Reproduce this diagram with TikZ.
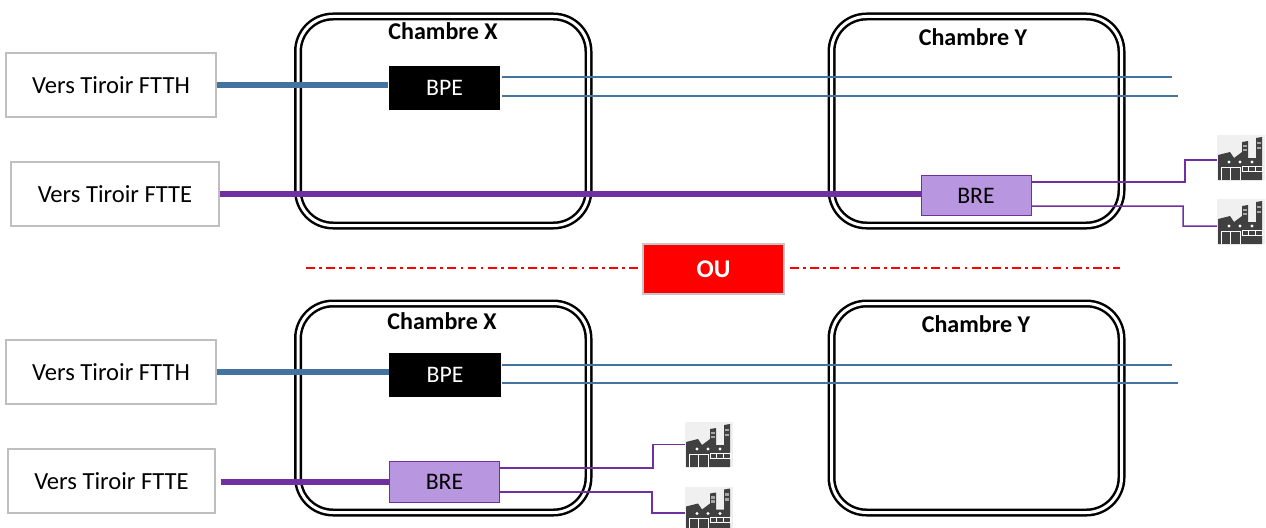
\documentclass[tikz,border=0pt]{standalone}
\usepackage{fontspec}
\setmainfont{Carlito}
\usetikzlibrary{calc}
\definecolor{ftthblue}{HTML}{44739F}
\definecolor{ftteviolet}{HTML}{7030A0}
\definecolor{brefill}{HTML}{B996E0}
\definecolor{usinegray}{HTML}{404040}
\tikzstyle{chambre}=[draw=black, double, line width=.05cm, double distance=.06cm, rounded corners=.7cm]
\tikzstyle{tiroir}=[draw=gray!50, line width=.03cm, fill=white, font=\fontsize{14}{16}\selectfont, inner sep=0pt]
\tikzstyle{titre}=[font=\fontsize{13.7}{16}\selectfont\bfseries]
\tikzstyle{bpebox}=[fill=black, text=white, font=\fontsize{13.5}{16}\selectfont, inner sep=0pt, minimum width=2.24cm, minimum height=.88cm]
\tikzstyle{brebox}=[draw=ftteviolet, line width=.02cm, fill=brefill, font=\fontsize{13.5}{16}\selectfont, inner sep=0pt, minimum width=2.2cm, minimum height=.82cm]
\tikzstyle{gros}=[line width=.12cm]
\tikzstyle{fin}=[line width=.03cm]
\tikzstyle{sep}=[red, line width=.03cm, dash pattern=on 5pt off 2.5pt on 1.5pt off 2.5pt]
\newcommand{\usineIcon}[2]{
	\node[inner sep=0pt, minimum width=.96cm, minimum height=.9cm, fill=gray!12] (#1) at #2 {};
	\begin{scope}[shift={($#2+(-24,-22.5)$)}]
		\fill[usinegray] (1,45) -- (1,20) -- (13,17) -- (17,23) -- (25,17) -- (25,7) -- (31,6) -- (31,23) -- (39,23) -- (39,3) -- (45,2) -- (45,45) -- cycle;
		\fill[white] (12,27) circle (1.6) (23,27) circle (1.6) (35,27) circle (1.6);
		\draw[white, line width=.02cm] (4,45) -- (4,32) -- (23,32) -- (23,45) (13.5,32) -- (13.5,45);
		\draw[white, line width=.02cm] (25,31) rectangle (45,36) (31,31) -- (31,36) (38,31) -- (38,36);
		\draw[gray!70, line width=.05cm] (26,11) -- (30,11) (26,15) -- (30,15) (40,8) -- (44,8) (40,13) -- (44,13);
	\end{scope}
}
\begin{document}
\begin{tikzpicture}[x=.02cm, y=-.02cm]
	\useasboundingbox (0,0) rectangle (1266,527);
	\draw[chambre] (298,16.5) rectangle (588.5,225.5);
	\draw[chambre] (831.5,16.5) rectangle (1121.5,225.5);
	\draw[chambre] (298,303.5) rectangle (588.5,512.5);
	\draw[chambre] (831.5,303.5) rectangle (1121.5,512.5);
	\node[titre] (chX1) at (443,31) {Chambre X};
	\node[titre] (chY1) at (973,37) {Chambre Y};
	\node[titre] (chX2) at (442,321) {Chambre X};
	\node[titre] (chY2) at (976,324) {Chambre Y};
	\node[tiroir, minimum width=4.2cm, minimum height=1.28cm] (ftth1) at (111,85) {Vers Tiroir FTTH};
	\node[tiroir, minimum width=4.16cm, minimum height=1.28cm] (ftte1) at (115,194) {Vers Tiroir FTTE};
	\node[tiroir, minimum width=4.2cm, minimum height=1.28cm] (ftth2) at (111,372) {Vers Tiroir FTTH};
	\node[tiroir, minimum width=4.14cm, minimum height=1.28cm] (ftte2) at (111.5,481) {Vers Tiroir FTTE};
	\node[bpebox] (bpe1) at (444.5,88) {BPE};
	\node[bpebox] (bpe2) at (445,375) {BPE};
	\node[brebox] (bre1) at (976,195.5) {BRE};
	\node[brebox] (bre2) at (444.5,482) {BRE};
	\node[draw=gray!45, line width=.03cm, fill=red, text=white, font=\fontsize{14.5}{16}\selectfont\bfseries, inner sep=0pt, minimum width=2.82cm, minimum height=1cm] (ou) at (713.5,269) {OU};
	\usineIcon{usineA}{(1241,157.5)}
	\usineIcon{usineB}{(1241,221.5)}
	\usineIcon{usineC}{(709,444.5)}
	\usineIcon{usineD}{(709,509)}
	\draw[gros, ftthblue] (ftth1.east) -- (ftth1.east -| bpe1.west);
	\draw[gros, ftteviolet] (ftte1.east) -- (ftte1.east -| bre1.west);
	\draw[gros, ftthblue] (ftth2.east) -- (ftth2.east -| bpe2.west);
	\draw[gros, ftteviolet] ($(ftte2.east)+(5,1)$) -- ($(ftte2.east -| bre2.west)+(0,1)$);
	\coordinate (finA) at (1172,77);
	\coordinate (finB) at (1178,96);
	\coordinate (finC) at (1172,365);
	\coordinate (finD) at (1178,383);
	\draw[fin, ftthblue] (502,77) -- (finA);
	\draw[fin, ftthblue] (502,96) -- (finB);
	\draw[fin, ftthblue] (502,365) -- (finC);
	\draw[fin, ftthblue] (502,383) -- (finD);
	\draw[fin, ftteviolet] ($(bre1.east)+(0,-13.5)$) -- (1185,182) -- (1185,160) -- (1217,160);
	\draw[fin, ftteviolet] ($(bre1.east)+(0,10.5)$) -- (1183,206) -- (1183,226) -- (1217,226);
	\draw[fin, ftteviolet] ($(bre2.east)+(0,-14)$) -- (653,468) |- (usineC.west);
	\draw[fin, ftteviolet] ($(bre2.east)+(0,10)$) -- (652,492) -- (652,513) -- (685,513);
	\coordinate (sepA) at (306,268);
	\coordinate (sepB) at (1120,268);
	\draw[sep] (sepA) -- (ou.west |- sepA);
	\draw[sep] (790,268) -- (sepB);
\end{tikzpicture}
\end{document}
